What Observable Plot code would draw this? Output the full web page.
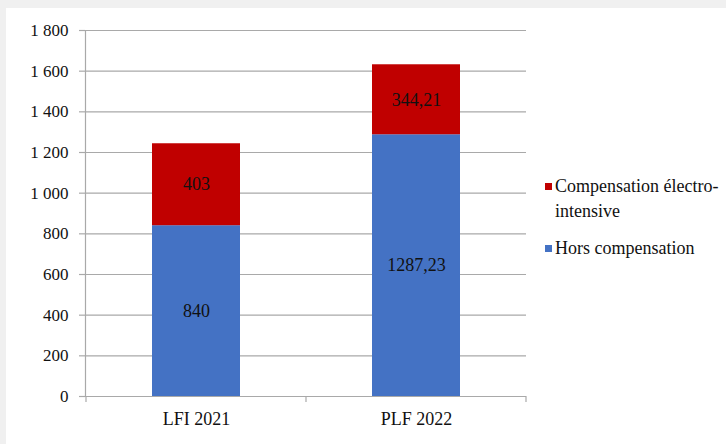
<!DOCTYPE html>
<html><head><meta charset="utf-8">
<script src="https://cdn.jsdelivr.net/npm/d3@7"></script>
<script src="https://cdn.jsdelivr.net/npm/@observablehq/plot@0.6"></script>
<style>
body{margin:0;background:#f0f0f0;width:726px;height:444px;overflow:hidden;position:relative;font-family:"Liberation Serif","Times New Roman",serif;}
#panel{position:absolute;left:6px;top:8px;right:0;bottom:0;background:#fff;}
#chart{position:absolute;left:0;top:0;}
#chart svg text{font-family:"Liberation Serif",serif !important;font-variant-numeric:normal !important;}
#legend{position:absolute;left:545px;top:174px;font-size:18px;color:#111;line-height:25px;}
.item{display:flex;align-items:flex-start;margin-bottom:12px;}
.sw{width:7px;height:7px;margin-top:9px;margin-right:3px;flex:none;}
.lab{width:172px;}
</style></head><body>
<div id="panel"></div><div id="chart"></div><div id="legend"></div>
<script>
const categories = ["LFI 2021", "PLF 2022"];
const series = ["Hors compensation", "Compensation électro-intensive"];
const horsCompensation = [840, 1287.23];
const compensation = [403, 344.21];
const yTicks = [0, 200, 400, 600, 800, 1000, 1200, 1400, 1600, 1800];
const colors = ["#4472C4", "#C00000"];

const fr = v => String(v).replace(".", ",");
const data = categories.flatMap((c, i) => [
  {cat: c, series: series[0], value: horsCompensation[i], label: fr(horsCompensation[i])},
  {cat: c, series: series[1], value: compensation[i], label: fr(compensation[i])}
]);
const grid = "#a9a9a9";
const serifFont = "Liberation Serif";

const plot = Plot.plot({
  width: 726, height: 444,
  marginLeft: 85, marginRight: 200, marginTop: 30, marginBottom: 48,
  style: {background: "transparent", fontFamily: serifFont, color: "#111"},
  x: {domain: categories, paddingInner: 0.6, paddingOuter: 0.3, label: null},
  y: {domain: [0, 1800], label: null},
  color: {domain: series, range: colors},
  marks: [
    Plot.ruleY(yTicks, {stroke: grid, strokeWidth: 1.2}),
    Plot.axisY({ticks: yTicks, tickSize: 6, tickPadding: 11, stroke: grid, strokeOpacity: 1, strokeWidth: 1.2, fontSize: 17, fontFamily: serifFont,
      tickFormat: d => d3.format(",")(d).replace(/,/g, " "), label: null}),
    Plot.barY(data, {x: "cat", y: "value", fill: "series"}),
    Plot.text(data, Plot.stackY({x: "cat", y: "value", text: "label", fontSize: 18, fontFamily: serifFont, fill: "#111"})),
    Plot.axisX({tickSize: 0, tickPadding: 16, fontSize: 18, fontFamily: serifFont, label: null}),
    Plot.frame({anchor: "left", stroke: grid, strokeWidth: 1.2})
  ]
});
document.getElementById("chart").append(plot);

// boundary ticks of the category axis, from the library's x scale
const xs = plot.scale("x"), ys = plot.scale("y");
const gap = xs.step - xs.bandwidth;
const bounds = categories.map(c => xs.apply(c) - gap / 2).concat([xs.apply(categories[categories.length - 1]) + xs.bandwidth + gap / 2]);
const y0 = ys.apply(0);
d3.select(plot).append("g").selectAll("line").data(bounds).join("line")
  .attr("x1", d => d).attr("x2", d => d).attr("y1", y0).attr("y2", y0 + 6)
  .attr("stroke", grid).attr("stroke-width", 1.2);

// legend
const legend = d3.select("#legend");
[1, 0].forEach(i => {
  const it = legend.append("div").attr("class", "item");
  it.append("div").attr("class", "sw").style("background", colors[i]);
  it.append("div").attr("class", "lab").text(series[i]);
});
</script>
</body></html>
